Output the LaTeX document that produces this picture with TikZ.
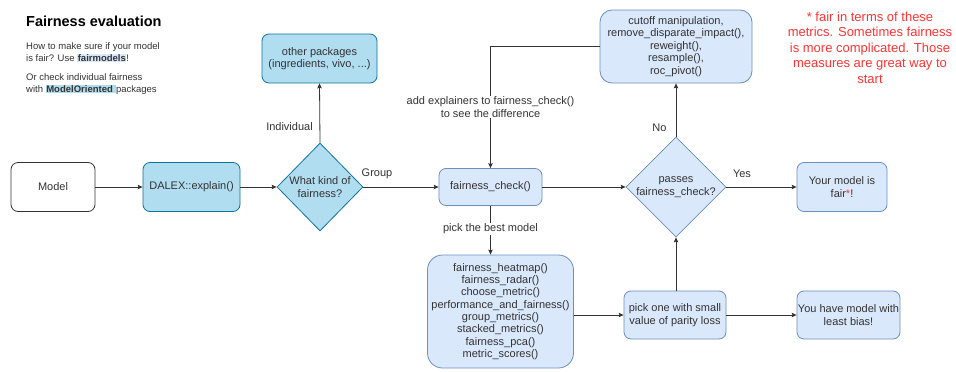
\documentclass[tikz,border=0pt]{standalone}
\usepackage{fontspec}
\setmainfont{Liberation Sans}
\usetikzlibrary{shapes.geometric,arrows.meta}
\definecolor{bluefill}{HTML}{DAE8FC}
\definecolor{bluestroke}{HTML}{6C8EBF}
\definecolor{cyanfill}{HTML}{B1DDF0}
\definecolor{cyanstroke}{HTML}{10739E}
\definecolor{txt}{HTML}{333333}
\definecolor{redtxt}{HTML}{FF3333}
\setlength{\fboxsep}{0.6pt}
\begin{document}
\begin{tikzpicture}[x=1pt,y=-1pt,
  every node/.style={text=txt, font=\fontsize{11}{12.5}\selectfont},
  bluebox/.style={draw=bluestroke, fill=bluefill, rounded corners=7pt, align=center, inner sep=0pt, line width=0.8pt},
  cyanbox/.style={draw=cyanstroke, fill=cyanfill, rounded corners=7pt, align=center, inner sep=0pt, line width=0.8pt},
  plainbox/.style={draw=txt, fill=white, rounded corners=7pt, align=center, inner sep=0pt, line width=0.8pt},
  bluedia/.style={diamond, draw=bluestroke, fill=bluefill, inner sep=0pt, line width=0.8pt},
  cyandia/.style={diamond, draw=cyanstroke, fill=cyanfill, inner sep=0pt, line width=0.8pt},
  edge/.style={draw=txt, line width=0.8pt, -{Stealth[length=5pt,width=4.5pt,inset=1pt]}},
  lbl/.style={fill=white, inner sep=1pt, align=center},
  small/.style={font=\fontsize{9.5}{12}\selectfont, anchor=base west, inner sep=0pt}
]
\useasboundingbox (0,0) rectangle (956,372);

% left text
\node[anchor=base west, inner sep=0pt, text=black, font=\fontsize{14.5}{17}\bfseries\selectfont] (title) at (26,27) {Fairness evaluation};
\node[small] (intro1) at (26,49) {How to make sure if your model};
\node[small] (intro2) at (26,61) {is fair? Use \colorbox{bluefill}{\textbf{fairmodels}}!};
\node[small] (intro3) at (26,80) {Or check individual fairness};
\node[small] (intro4) at (26,92) {with \colorbox{cyanfill}{\textbf{ModelOriented} }packages};

% red note
\node[align=center, text=redtxt, font=\fontsize{13}{15.5}\selectfont] (note) at (870,47.5)
  {* fair in terms of these\\metrics. Sometimes fairness\\is more complicated. Those\\measures are great way to\\start};

% nodes
\node[plainbox, minimum width=84pt, minimum height=49pt] (model) at (53,187) {Model};
\node[cyanbox, minimum width=97pt, minimum height=49pt] (dalex) at (191.5,187) {DALEX::explain()};
\node[cyandia, minimum width=86pt, minimum height=88pt] (what) at (320,187) {};
\node[align=center] (whattxt) at (320,187) {What kind of\\fairness?};
\node[cyanbox, minimum width=115pt, minimum height=49pt] (other) at (319.5,58.5) {other packages\\(ingredients, vivo, ...)};
\node[bluebox, minimum width=103pt, minimum height=37pt] (fcheck) at (490.5,187) {fairness\_check()};
\node[bluebox, rounded corners=12pt, minimum width=152pt, minimum height=73pt] (cutoff) at (676,46.5)
  {cutoff manipulation,\\remove\_disparate\_impact(),\\reweight(),\\resample(),\\roc\_pivot()};
\node[bluedia, minimum width=100pt, minimum height=100pt] (passes) at (676,187) {};
\node[align=center] (passestxt) at (676,187) {passes\\fairness\_check?};
\node[bluebox, minimum width=90pt, minimum height=49pt] (fair) at (842,187) {Your model is\\fair\textcolor{redtxt}{*}!};
\node[bluebox, rounded corners=15pt, minimum width=146pt, minimum height=113pt, font=\fontsize{11}{12.3}\selectfont] (big) at (500.5,311.5)
  {fairness\_heatmap()\\fairness\_radar()\\choose\_metric()\\performance\_and\_fairness()\\group\_metrics()\\stacked\_metrics()\\fairness\_pca()\\metric\_scores()};
\node[bluebox, minimum width=102pt, minimum height=48pt] (pick) at (675,315) {pick one with small\\value of parity loss};
\node[bluebox, minimum width=103pt, minimum height=48pt] (least) at (848.5,315) {You have model with\\least bias!};

% edges
\draw[edge] (model) -- (dalex);
\draw[edge] (dalex) -- (what);
\draw[edge] (what.north) -- (other.south);
\draw[edge] (what) -- (fcheck);
\draw[edge] (cutoff.west) -| (fcheck.north);
\draw[edge] (fcheck) -- (passes);
\draw[edge] (passes.north) -- (cutoff.south);
\draw[edge] (passes) -- (fair);
\draw[edge] (fcheck.south) -- (fcheck.south |- big.north);
\draw[edge] (big.east |- pick.west) -- (pick.west);
\draw[edge] (passes.south |- pick.north) -- (passes.south);
\draw[edge] (pick) -- (least);

% edge labels
\node[lbl] (lind) at (289.5,127) {Individual};
\node[lbl] (lgroup) at (377,174) {Group};
\node[lbl] (ladd) at (490.5,107) {add explainers to fairness\_check()\\to see the difference};
\node[lbl] (lno) at (659.5,128) {No};
\node[lbl] (lyes) at (742,174) {Yes};
\node[lbl] (lpick) at (490.5,229) {pick the best model};
\end{tikzpicture}
\end{document}
